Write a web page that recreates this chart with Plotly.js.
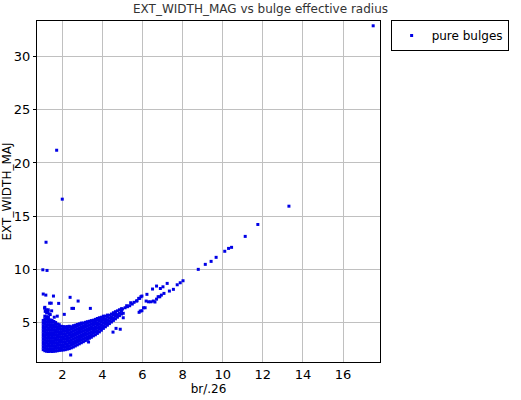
<!DOCTYPE html>
<html>
<head>
<meta charset="utf-8">
<script src="https://cdn.plot.ly/plotly-3.0.1.min.js"></script>
<style>html,body{margin:0;padding:0;background:#fff;}#chart{width:521px;height:400px;}</style>
</head>
<body>
<div id="chart"></div>
<script>
// Dense core of the distribution: column x positions and the y values read in each column
var coreColX = [1.05,1.13,1.22,1.31,1.40,1.49,1.58,1.67,1.76,1.85,1.95,2.05,2.15,2.25,2.35,2.45,2.55,2.65,2.75,2.85,2.95,3.05,3.15,3.25,3.35,3.45,3.55,3.65,3.75,3.85,3.95,4.05,4.15,4.25,4.35,4.45,4.55,4.65,4.75,4.85,4.95];
var coreColY = [
  [2.45,2.7,2.95,3.2,3.45,3.7,3.95,4.2,4.45,4.7,4.95,5.2],
  [2.35,2.6,2.85,3.1,3.35,3.6,3.85,4.1,4.35,4.6,4.85,5.1,5.35,5.6],
  [2.3,2.55,2.8,3.05,3.3,3.55,3.8,4.05,4.3,4.55,4.8,5.05,5.3,5.55,5.9],
  [2.28,2.52,2.78,3.02,3.28,3.52,3.78,4.02,4.28,4.52,4.78,5.02,5.28,5.5],
  [2.3,2.55,2.8,3.05,3.3,3.55,3.8,4.05,4.3,4.55,4.8,5.05,5.25],
  [2.28,2.53,2.78,3.03,3.28,3.53,3.78,4.03,4.28,4.53,4.78,5.03,5.2],
  [2.3,2.55,2.8,3.05,3.3,3.55,3.8,4.05,4.3,4.55,4.8,5.1],
  [2.32,2.57,2.82,3.07,3.32,3.57,3.82,4.07,4.32,4.57,4.82,5.0],
  [2.35,2.6,2.85,3.1,3.35,3.6,3.85,4.1,4.35,4.6,4.85],
  [2.38,2.63,2.88,3.13,3.38,3.63,3.88,4.13,4.38,4.63,4.8],
  [2.4,2.65,2.9,3.15,3.4,3.65,3.9,4.15,4.4,4.65],
  [2.42,2.67,2.92,3.17,3.42,3.67,3.92,4.17,4.42,4.62],
  [2.45,2.7,2.95,3.2,3.45,3.7,3.95,4.2,4.45,4.6],
  [2.5,2.75,3.0,3.25,3.5,3.75,4.0,4.25,4.5,4.62],
  [2.55,2.8,3.05,3.3,3.55,3.8,4.05,4.3,4.55,4.65],
  [2.62,2.87,3.12,3.37,3.62,3.87,4.12,4.37,4.6],
  [2.7,2.95,3.2,3.45,3.7,3.95,4.2,4.45,4.7],
  [2.8,3.05,3.3,3.55,3.8,4.05,4.3,4.55,4.75],
  [2.9,3.15,3.4,3.65,3.9,4.15,4.4,4.65,4.82],
  [3.0,3.25,3.5,3.75,4.0,4.25,4.5,4.75,4.88],
  [3.1,3.35,3.6,3.85,4.1,4.35,4.6,4.85,4.95],
  [3.2,3.45,3.7,3.95,4.2,4.45,4.7,4.95],
  [3.3,3.55,3.8,4.05,4.3,4.55,4.8,5.02],
  [3.42,3.67,3.92,4.17,4.42,4.67,4.92,5.08],
  [3.52,3.77,4.02,4.27,4.52,4.77,5.02,5.12],
  [3.62,3.87,4.12,4.37,4.62,4.87,5.12,5.18],
  [3.75,4.0,4.25,4.5,4.75,5.0,5.22],
  [3.85,4.1,4.35,4.6,4.85,5.1,5.3],
  [3.98,4.23,4.48,4.73,4.98,5.23,5.38],
  [4.12,4.37,4.62,4.87,5.12,5.37,5.45],
  [4.28,4.53,4.78,5.03,5.28,5.5],
  [4.45,4.7,4.95,5.2,5.45,5.6],
  [4.6,4.85,5.1,5.35,5.6],
  [4.75,5.0,5.25,5.5,5.7],
  [4.9,5.15,5.4,5.68],
  [5.05,5.3,5.55,5.8],
  [5.2,5.45,5.75,5.92],
  [5.35,5.6,5.85,6.02],
  [5.5,5.75,6.1],
  [5.65,5.9,6.2],
  [5.8,6.05,6.3]
];
// Sparse points around the core
var haloX = [1.05,1.18,1.56,2.39,2.79,1.82,1.37,1.45,1.13,2.48,2.56,3.40,2.10,1.29,1.20,1.15,1.75,1.35,1.60,1.12,1.18,1.30,1.40,1.47,2.42,3.31,4.53,4.89,4.68];
var haloY = [7.68,7.58,7.49,7.37,7.02,6.80,6.82,6.82,6.43,6.33,6.33,6.33,5.77,6.00,6.20,6.05,5.60,5.80,5.50,6.35,6.10,6.20,5.75,6.10,1.95,3.17,4.10,4.37,4.45];
// Upper branch towards large radius
var bandX = [5.00,5.13,5.25,5.36,5.49,5.58,5.70,5.81,5.92,5.04,5.04,5.21,5.41,5.73,5.86,5.97,6.22,6.50,6.70,6.89,7.02,7.23,7.34,7.54,7.73,7.88,8.02,6.18,6.30,6.42,6.54,6.70,6.78,6.94,7.07,6.05,5.89,5.97,5.83,6.13,6.62,6.86,8.78,9.13,9.42,9.67,10.10,10.29,10.44,11.12,11.75,13.30,17.50];
var bandY = [6.27,6.39,6.49,6.58,6.74,6.90,7.02,7.27,7.43,5.87,5.45,6.58,6.86,7.05,7.27,7.49,7.65,8.15,8.43,8.20,8.36,8.68,7.96,8.12,8.55,8.74,8.93,7.02,6.95,6.95,7.02,7.20,7.43,7.58,7.74,6.39,6.08,6.11,5.96,6.39,6.93,7.42,10.00,10.47,10.75,11.13,11.70,11.97,12.07,13.10,14.22,15.94,32.90];
// High outliers at small radius
var outX = [1.72,2.00,1.19,1.03,1.24];
var outY = [21.2,16.6,12.55,9.96,9.90];

var xs = [], ys = [];
coreColX.forEach(function(cx, i){ coreColY[i].forEach(function(v){ xs.push(cx); ys.push(v); }); });
xs = xs.concat(haloX, bandX, outX);
ys = ys.concat(haloY, bandY, outY);

var trace = {
  x: xs, y: ys, type: 'scatter', mode: 'markers', name: 'pure bulges',
  marker: {symbol: 'square', size: 3, color: '#0000e6', line: {width: 0}}
};
var font = 'DejaVu Sans, Verdana, sans-serif';
var layout = {
  width: 521, height: 400,
  margin: {l: 37, r: 131, t: 21, b: 38, pad: 0},
  paper_bgcolor: '#fff', plot_bgcolor: '#fff',
  font: {family: font, size: 13, color: '#000'},
  title: {text: 'EXT_WIDTH_MAG vs bulge effective radius', font: {family: font, size: 12, color: '#333'},
          x: 0.5, xref: 'container', xanchor: 'center', y: 0.978, yref: 'container', yanchor: 'middle'},
  showlegend: true,
  legend: {x: 1.031, xanchor: 'left', y: 1.003, yanchor: 'top', bordercolor: '#000', borderwidth: 1,
           bgcolor: '#fff', font: {family: font, size: 12, color: '#000'}, itemwidth: 30},
  xaxis: {range: [0.74, 17.84], tickvals: [2,4,6,8,10,12,14,16], ticks: '', showgrid: true, gridcolor: '#c0c0c0',
          gridwidth: 1, zeroline: false, showline: true, linecolor: '#000', linewidth: 1, mirror: true,
          tickfont: {family: font, size: 13, color: '#000'},
          title: {text: 'br/.26', font: {family: font, size: 12, color: '#000'}, standoff: 4}, automargin: false},
  yaxis: {range: [1.29, 33.35], tickvals: [5,10,15,20,25,30], ticks: 'outside', ticklen: 3, tickcolor: '#000',
          showgrid: true, gridcolor: '#c0c0c0', gridwidth: 1, zeroline: false, showline: true, linecolor: '#000',
          linewidth: 1, mirror: true, tickfont: {family: font, size: 13, color: '#000'},
          title: {text: 'EXT_WIDTH_MAJ', font: {family: font, size: 12, color: '#000'}, standoff: 4}, automargin: false}
};
Plotly.newPlot('chart', [trace], layout, {displayModeBar: false, staticPlot: true});
</script>
</body>
</html>
